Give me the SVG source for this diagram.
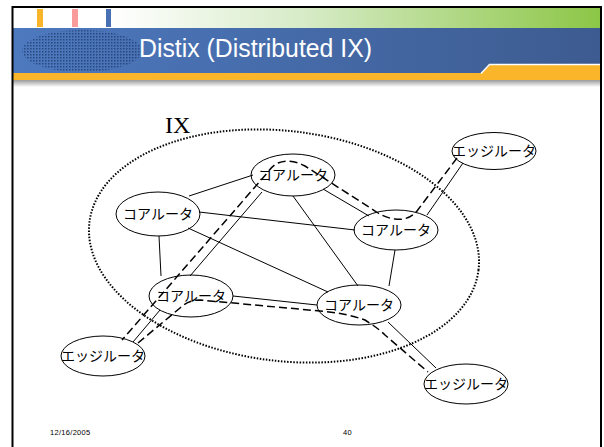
<svg xmlns="http://www.w3.org/2000/svg" width="604" height="447" viewBox="0 0 604 447">
<defs>
<linearGradient id="gTop" x1="0" y1="0" x2="1" y2="0">
<stop offset="0" stop-color="#ffffff"/>
<stop offset="0.17" stop-color="#ffffff"/>
<stop offset="0.5" stop-color="#d6ebc6"/>
<stop offset="1" stop-color="#8cc646"/>
</linearGradient>
<linearGradient id="gBlue" x1="0" y1="0" x2="1" y2="0">
<stop offset="0" stop-color="#4d79bf"/>
<stop offset="1" stop-color="#3d5b90"/>
</linearGradient>
<linearGradient id="gShadow" x1="0" y1="0" x2="0" y2="1">
<stop offset="0" stop-color="#9a9a9a"/>
<stop offset="1" stop-color="#ffffff"/>
</linearGradient>
<pattern id="dots" width="3" height="3" patternUnits="userSpaceOnUse">
<rect x="0" y="0" width="1.5" height="1.5" fill="#223f74"/>
</pattern>
<style>
.edge{stroke:#000;stroke-width:1;fill:none}
.path{stroke:#000;stroke-width:1.5;fill:none;stroke-dasharray:8 4}
.node ellipse{fill:none;stroke:#000;stroke-width:1}
.node text{font-family:"Noto Sans CJK JP","Noto Sans",sans-serif;font-size:14px;text-anchor:middle;fill:#000}
.foot{font-family:"Liberation Sans",Arial,sans-serif;font-size:7.5px;fill:#000;letter-spacing:0.3px}
</style>
</defs>
<rect x="0" y="0" width="604" height="447" fill="#ffffff"/>
<!-- header -->
<rect x="12" y="8" width="589" height="20" fill="url(#gTop)"/>
<rect x="37" y="9" width="6" height="18" fill="#fbb52b"/>
<rect x="72" y="9" width="6" height="18" fill="#f99b9b"/>
<rect x="106" y="9" width="5" height="18" fill="#4a70b4"/>
<rect x="12" y="28" width="589" height="46" fill="url(#gBlue)"/>
<ellipse cx="82" cy="51" rx="60" ry="21" fill="url(#dots)" opacity="0.85"/>
<rect x="12" y="80" width="589" height="7" fill="url(#gShadow)"/>
<rect x="12" y="73" width="589" height="7" fill="#fbb52b"/>
<path d="M481,74 L490,65 L601,65 L601,80 L481,80 Z" fill="#fbb52b"/>
<path d="M481,73.5 L489.5,64.5 L601,64.5" fill="none" stroke="#ffffff" stroke-width="1.5"/>
<text x="139" y="57" font-family="'Liberation Sans',Arial,sans-serif" font-size="26" fill="#ffffff" textLength="233" lengthAdjust="spacingAndGlyphs">Distix (Distributed IX)</text>
<!-- frame -->
<path d="M12.5,447 L12.5,7 L601,7 L601,447" fill="none" stroke="#000" stroke-width="2"/>
<!-- IX region -->
<ellipse id="ix-region" cx="284" cy="246" rx="196" ry="115" transform="rotate(7 284 246)" fill="none" stroke="#000" stroke-width="2" stroke-dasharray="1.5 1.6"/>
<text x="165" y="133" font-family="'Liberation Serif','Times New Roman',serif" font-size="24" fill="#000">IX</text>
<!-- connectors -->
<g id="connectors">
<line class="edge" x1="189" y1="196" x2="253" y2="175"/>
<line class="edge" x1="199" y1="212" x2="355" y2="230"/>
<line class="edge" x1="188" y1="228" x2="328" y2="292"/>
<line class="edge" x1="159" y1="236" x2="161" y2="276"/>
<line class="edge" x1="293" y1="196" x2="358" y2="286"/>
<line class="edge" x1="323" y1="189" x2="369" y2="216"/>
<line class="edge" x1="262" y1="192" x2="190" y2="276"/>
<line class="edge" x1="160" y1="310" x2="133" y2="342"/>
<line class="edge" x1="395" y1="250" x2="389" y2="286"/>
<line class="edge" x1="233" y1="296" x2="317" y2="305"/>
<line class="edge" x1="427" y1="215" x2="463" y2="163"/>
<line class="edge" x1="388" y1="322" x2="436" y2="368"/>
<path class="path" d="M457,158 L417,211 Q408,221 395,219 Q385,218 375,211 L305,166 Q290,158 278,163 Q272,166 268,172 L122,340"/>
<path class="path" d="M138,343 L180,308 Q188,300 200,300 L320,311 Q345,313 365,320 Q378,328 385,335 L428,372"/>
</g>
<!-- nodes -->
<g id="core-a" class="node"><ellipse cx="293" cy="175" rx="42" ry="21"/><text x="293" y="180">コアルータ</text></g>
<g id="core-b" class="node"><ellipse cx="158" cy="214" rx="42" ry="22"/><text x="158" y="219">コアルータ</text></g>
<g id="core-c" class="node"><ellipse cx="396" cy="230" rx="42" ry="20"/><text x="396" y="235">コアルータ</text></g>
<g id="core-d" class="node"><ellipse cx="191" cy="296" rx="42" ry="21"/><text x="191" y="301">コアルータ</text></g>
<g id="core-e" class="node"><ellipse cx="359" cy="305" rx="42" ry="20"/><text x="359" y="310">コアルータ</text></g>
<g id="edge-f" class="node"><ellipse cx="494" cy="151" rx="42" ry="18.5"/><text x="494" y="156">エッジルータ</text></g>
<g id="edge-g" class="node"><ellipse cx="103" cy="356" rx="42" ry="20"/><text x="103" y="361">エッジルータ</text></g>
<g id="edge-h" class="node"><ellipse cx="466" cy="384" rx="42" ry="20"/><text x="466" y="389">エッジルータ</text></g>
<!-- footer -->
<text class="foot" x="50" y="435">12/16/2005</text>
<text class="foot" x="343" y="435">40</text>
</svg>
